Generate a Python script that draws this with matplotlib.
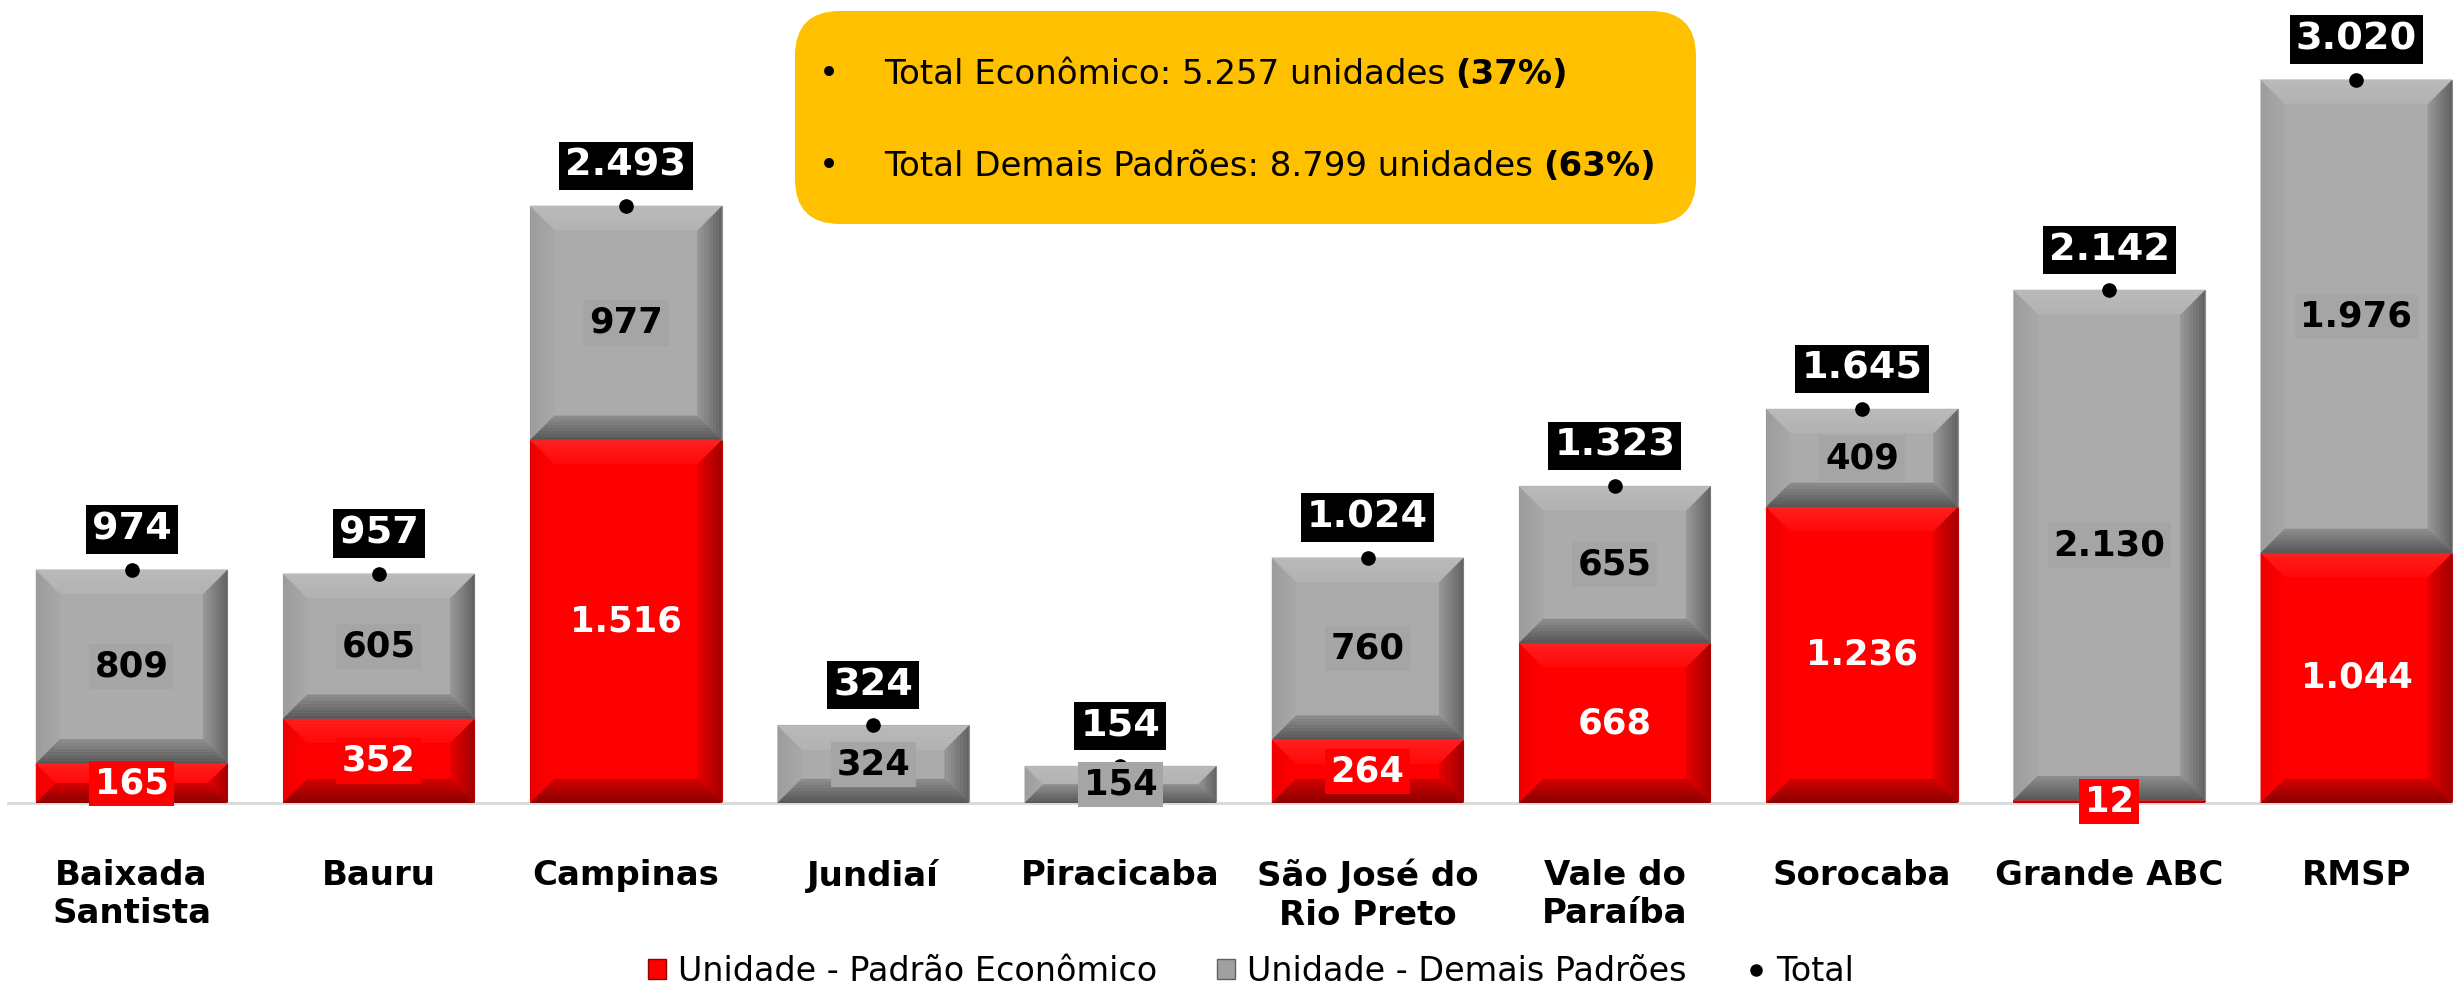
import matplotlib
matplotlib.use("Agg")
import matplotlib.pyplot as plt
from matplotlib import font_manager as fm
from matplotlib.patches import Polygon, FancyBboxPatch, Patch
from matplotlib.lines import Line2D
from matplotlib.transforms import IdentityTransform
import numpy as np

# ---------------- data ----------------
categories = ["Baixada\nSantista", "Bauru", "Campinas", "Jundiaí", "Piracicaba",
              "São José do\nRio Preto", "Vale do\nParaíba", "Sorocaba", "Grande ABC", "RMSP"]
economico = [165, 352, 1516, 0, 0, 264, 668, 1236, 12, 1044]
demais = [809, 605, 977, 324, 154, 760, 655, 409, 2130, 1976]
totais = [974, 957, 2493, 324, 154, 1024, 1323, 1645, 2142, 3020]
series_names = ["Unidade - Padrão Econômico", "Unidade - Demais Padrões", "Total"]
box_lines = [("Total Econômico: 5.257 unidades", "(37%)"),
             ("Total Demais Padrões: 8.799 unidades", "(63%)")]

# ---------------- fonts ----------------
def fp(bold, size):
    return fm.FontProperties(family="DejaVu Sans", weight="bold" if bold else "normal",
                             size=size)

def fmt(v):
    return f"{v:,}".replace(",", ".")

# ---------------- figure ----------------
W, H = 2453, 990
fig = plt.figure(figsize=(W / 100, H / 100), dpi=100)
ax_left, ax_bottom_px, ax_top_px = 8, 803, 20
ax = fig.add_axes([ax_left / W, (H - ax_bottom_px) / H, (W - ax_left) / W,
                   (ax_bottom_px - ax_top_px) / H])

slot_px = 247.2
unit_px = 0.2395
xmax = -0.5 + (W - ax_left) / slot_px
ymax = (ax_bottom_px - ax_top_px) / unit_px
ax.set_xlim(-0.5, xmax)
ax.set_ylim(0, ymax)

RED = "#FF0000"
GRAY = "#ABABAB"
x = np.arange(len(categories))
width = 0.773

bars_e = ax.bar(x, economico, width, color=RED, edgecolor="#C00000", linewidth=0.8,
                zorder=2, label=series_names[0])
bars_d = ax.bar(x, demais, width, bottom=economico, color=GRAY, edgecolor="#8C8C8C",
                linewidth=0.8, zorder=2, label=series_names[1])

# bevel effect
BEV_PX = 24

def mix(c1, c2, t):
    c1 = np.array(matplotlib.colors.to_rgb(c1))
    c2 = np.array(matplotlib.colors.to_rgb(c2))
    return tuple(c1 + (c2 - c1) * t)

def bevel(rect, scheme, n=8):
    x0, y0 = rect.get_x(), rect.get_y()
    w, h = rect.get_width(), rect.get_height()
    if h <= 0:
        return
    x1, y1 = x0 + w, y0 + h
    bx, by = BEV_PX / slot_px, BEV_PX / unit_px
    f = min(1.0, (h / 2) / by, (w / 2) / bx)
    bx, by = bx * f, by * f
    for side, (ce, ci) in scheme.items():
        for k in range(n):
            t0, t1 = k / n, (k + 1) / n
            a0x, a0y, a1x, a1y = t0 * bx, t0 * by, t1 * bx, t1 * by
            if side == "top":
                pts = [(x0 + a0x, y1 - a0y), (x1 - a0x, y1 - a0y), (x1 - a1x, y1 - a1y), (x0 + a1x, y1 - a1y)]
            elif side == "bottom":
                pts = [(x0 + a0x, y0 + a0y), (x1 - a0x, y0 + a0y), (x1 - a1x, y0 + a1y), (x0 + a1x, y0 + a1y)]
            elif side == "left":
                pts = [(x0 + a0x, y0 + a0y), (x0 + a0x, y1 - a0y), (x0 + a1x, y1 - a1y), (x0 + a1x, y0 + a1y)]
            else:
                pts = [(x1 - a0x, y0 + a0y), (x1 - a0x, y1 - a0y), (x1 - a1x, y1 - a1y), (x1 - a1x, y0 + a1y)]
            col = mix(ce, ci, (t0 + t1) / 2)
            ax.add_patch(Polygon(pts, closed=True, facecolor=col, edgecolor=col,
                                 linewidth=0.3, zorder=3))

gray_scheme = {"left": ("#9C9C9C", "#A8A8A8"), "right": ("#606060", "#989898"),
               "top": ("#BBBBBB", "#B2B2B2"), "bottom": ("#555555", "#8E8E8E")}
red_scheme = {"left": ("#EE0000", "#FF0000"), "right": ("#A00000", "#E60000"),
              "top": ("#FF2020", "#FF0A0A"), "bottom": ("#880000", "#D40000")}
for r in bars_e:
    bevel(r, red_scheme)
for r in bars_d:
    bevel(r, gray_scheme)

# totals: dots
ax.plot(x, totais, "o", color="black", ms=9.5, zorder=5, clip_on=False,
        label=series_names[2])

# value labels
for i in range(len(categories)):
    e, d = economico[i], demais[i]
    if e > 0:
        ax.text(i, e / 2, fmt(e), ha="center", va="center", color="white",
                fontproperties=fp(True, 25.5), zorder=6,
                bbox=dict(boxstyle="square,pad=0.16", fc=RED, ec="none"))
    ax.text(i, e + d / 2, fmt(d), ha="center", va="center", color="black",
            fontproperties=fp(True, 25.5), zorder=6,
            bbox=dict(boxstyle="square,pad=0.16", fc="#A5A5A5", ec="none"))

# total labels
for i, t in enumerate(totais):
    ax.annotate(fmt(t), (i, t), xytext=(0, 29), textcoords="offset points",
                ha="center", va="center", color="white", fontproperties=fp(True, 27.5),
                zorder=8, annotation_clip=False,
                bbox=dict(boxstyle="square,pad=0.16", fc="black", ec="none"))

# axes styling
for s in ["top", "right", "left"]:
    ax.spines[s].set_visible(False)
ax.spines["bottom"].set_color("#D9D9D9")
ax.spines["bottom"].set_linewidth(2)
ax.set_yticks([])
ax.set_xticks(x)
ax.set_xticklabels(categories, fontproperties=fp(True, 24.5), linespacing=1.22)
ax.tick_params(axis="x", length=0, pad=40)

# legend
handles = [Patch(facecolor=RED, edgecolor="#900000"),
           Patch(facecolor="#A0A0A0", edgecolor="#606060"),
           Line2D([], [], marker="o", ls="", color="black", ms=8)]
fig.legend(handles, series_names, loc="center", bbox_to_anchor=(0.51, 0.019),
           ncol=3, frameon=False, prop=fp(False, 24), handlelength=0.55,
           handleheight=0.55, handletextpad=0.35, columnspacing=1.8, borderpad=0)

# orange info box
box = FancyBboxPatch((795, H - 224), 901, 213,
                     boxstyle="round,pad=0,rounding_size=45",
                     transform=IdentityTransform(), facecolor="#FFC000",
                     edgecolor="none", zorder=10)
fig.patches.append(box)

fig.canvas.draw()
renderer = fig.canvas.get_renderer()
line_y_px = [75, 167]
for (plain, bold), ypx in zip(box_lines, line_y_px):
    yf = 1 - ypx / H
    fig.text(829 / W, yf, "•", ha="center", va="center", fontproperties=fp(False, 24.5),
             color="black", zorder=11)
    t1 = fig.text(884 / W, yf, plain, ha="left", va="center",
                  fontproperties=fp(False, 24.5), color="black", zorder=11)
    bb = t1.get_window_extent(renderer)
    fig.text((bb.x1 + 10) / W, yf, bold, ha="left", va="center",
             fontproperties=fp(True, 24.5), color="black", zorder=11)

fig.savefig("out.png", dpi=100)
